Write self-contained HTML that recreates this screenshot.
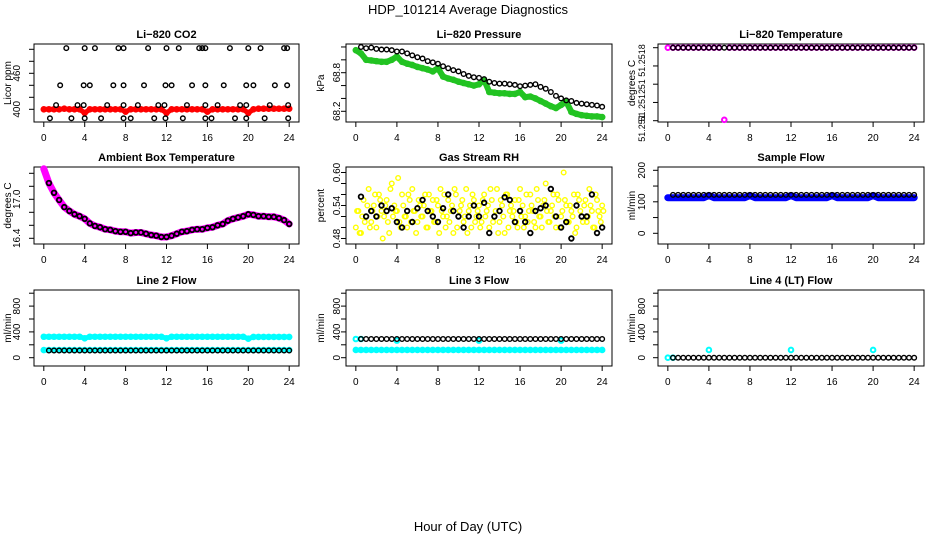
<!DOCTYPE html>
<html><head><meta charset="utf-8">
<style>
html,body{margin:0;padding:0;background:#fff;}
svg{display:block;font-family:"Liberation Sans",Arial,sans-serif;}
.ttl{font-size:11px;font-weight:bold;text-anchor:middle;}
.tk{font-size:10px;text-anchor:middle;}
</style></head>
<body>
<svg id="chart" width="936" height="540" viewBox="0 0 936 540" xmlns="http://www.w3.org/2000/svg">
<text x="468" y="14" font-size="13" text-anchor="middle">HDP_101214  Average Diagnostics</text>
<text x="468" y="531" font-size="13" text-anchor="middle">Hour of Day (UTC)</text>
</svg>
<script>
const hrs=[0,0.5,1,1.5,2,2.5,3,3.5,4,4.5,5,5.5,6,6.5,7,7.5,8,8.5,9,9.5,10,10.5,11,11.5,12,12.5,13,13.5,14,14.5,15,15.5,16,16.5,17,17.5,18,18.5,19,19.5,20,20.5,21,21.5,22,22.5,23,23.5,24];
const xTicks=[0,4,8,12,16,20,24];
// CO2
const co2Red=[400,400,400,400,401,400,400,400,394,400,400,400,400,400,400,400,396,400,400,400,400,400,400,400,394,400,400,400,400,400,400,400,396,400,400,400,400,400,400,400,394,400,401,401,401,401,401,401,401];
const co2BlackX=[2.2,4,5,7.3,7.8,10.2,12,13.2,15.2,15.5,15.8,18.2,20,21.2,23.5,23.8,1.6,3.9,4.5,6.8,7.8,9.8,11.9,12.5,14.5,15.8,17.6,19.8,20.5,22.6,23.8,1.2,3.3,3.9,6.2,7.8,9.2,11.2,11.8,14,15.8,17,19.2,19.8,22.1,23.9,0.6,2.7,4,5.6,7.8,8.5,10.8,11.9,13.6,15.8,16.4,18.7,19.8,21.6,23.9];
const co2BlackY=[502,502,502,502,502,502,502,502,502,502,502,502,502,502,502,502,440,440,440,440,440,440,440,440,440,440,440,440,440,440,440,407,407,407,407,407,407,407,407,407,407,407,407,407,407,407,385,385,385,385,385,385,385,385,385,385,385,385,385,385,385];
// Pressure
const presGreen=[69.15,69.1,69.0,68.99,68.98,68.97,68.97,69.0,69.05,68.97,68.94,68.92,68.89,68.87,68.85,68.82,68.87,68.74,68.71,68.69,68.66,68.64,68.62,68.6,68.62,68.69,68.5,68.49,68.48,68.48,68.47,68.47,68.5,68.42,68.43,68.4,68.36,68.32,68.28,68.25,68.3,68.35,68.19,68.16,68.14,68.13,68.12,68.12,68.11];
const presBlack=[69.2,69.18,69.19,69.17,69.16,69.16,69.15,69.13,69.13,69.1,69.07,69.04,69.02,68.98,68.96,68.94,68.9,68.87,68.84,68.82,68.78,68.75,68.73,68.72,68.7,68.66,68.64,68.63,68.63,68.62,68.61,68.59,68.6,68.61,68.62,68.58,68.55,68.5,68.44,68.4,68.37,68.36,68.33,68.32,68.31,68.3,68.29,68.27];
// Li-820 temperature
const tempMag=[51.2518,51.2518,51.2518,51.2518,51.2518,51.2518,51.2518,51.2518,51.2518,51.2518,51.2518,51.25101,51.2518,51.2518,51.2518,51.2518,51.2518,51.2518,51.2518,51.2518,51.2518,51.2518,51.2518,51.2518,51.2518,51.2518,51.2518,51.2518,51.2518,51.2518,51.2518,51.2518,51.2518,51.2518,51.2518,51.2518,51.2518,51.2518,51.2518,51.2518,51.2518,51.2518,51.2518,51.2518,51.2518,51.2518,51.2518,51.2518,51.2518];
const tempBlack=[51.2518,51.2518,51.2518,51.2518,51.2518,51.2518,51.2518,51.2518,51.2518,51.2518,51.2518,51.2518,51.2518,51.2518,51.2518,51.2518,51.2518,51.2518,51.2518,51.2518,51.2518,51.2518,51.2518,51.2518,51.2518,51.2518,51.2518,51.2518,51.2518,51.2518,51.2518,51.2518,51.2518,51.2518,51.2518,51.2518,51.2518,51.2518,51.2518,51.2518,51.2518,51.2518,51.2518,51.2518,51.2518,51.2518,51.2518,51.2518];
// Ambient box temperature
const ambMag=[17.47,17.25,17.1,16.99,16.88,16.82,16.77,16.74,16.7,16.63,16.59,16.57,16.54,16.53,16.51,16.5,16.5,16.48,16.49,16.49,16.47,16.45,16.44,16.42,16.42,16.44,16.47,16.5,16.51,16.53,16.54,16.54,16.56,16.57,16.6,16.62,16.67,16.7,16.72,16.74,16.77,16.76,16.74,16.74,16.73,16.73,16.71,16.68,16.62];
const ambBlack=[17.25,17.1,16.99,16.88,16.82,16.77,16.74,16.7,16.63,16.59,16.57,16.54,16.53,16.51,16.5,16.5,16.48,16.49,16.49,16.47,16.45,16.44,16.42,16.42,16.44,16.47,16.5,16.51,16.53,16.54,16.54,16.56,16.57,16.6,16.62,16.67,16.7,16.72,16.74,16.77,16.76,16.74,16.74,16.73,16.73,16.71,16.68,16.62];
// Gas stream RH
const rhQ=[0,0.25,0.5,0.75,1,1.25,1.5,1.75,2,2.25,2.5,2.75,3,3.25,3.5,3.75,4,4.25,4.5,4.75,5,5.25,5.5,5.75,6,6.25,6.5,6.75,7,7.25,7.5,7.75,8,8.25,8.5,8.75,9,9.25,9.5,9.75,10,10.25,10.5,10.75,11,11.25,11.5,11.75,12,12.25,12.5,12.75,13,13.25,13.5,13.75,14,14.25,14.5,14.75,15,15.25,15.5,15.75,16,16.25,16.5,16.75,17,17.25,17.5,17.75,18,18.25,18.5,18.75,19,19.25,19.5,19.75,20,20.25,20.5,20.75,21,21.25,21.5,21.75,22,22.25,22.5,22.75,23,23.25,23.5,23.75,24];
const rhYelA=[0.50,0.53,0.49,0.55,0.52,0.57,0.51,0.54,0.50,0.56,0.53,0.52,0.55,0.49,0.58,0.54,0.53,0.51,0.56,0.52,0.50,0.55,0.57,0.53,0.51,0.54,0.52,0.56,0.50,0.53,0.55,0.51,0.54,0.57,0.52,0.50,0.55,0.53,0.49,0.56,0.52,0.54,0.51,0.57,0.53,0.50,0.55,0.52,0.54,0.51,0.56,0.53,0.50,0.55,0.52,0.57,0.51,0.54,0.49,0.56,0.53,0.52,0.55,0.50,0.57,0.54,0.52,0.51,0.56,0.53,0.50,0.55,0.52,0.54,0.58,0.51,0.53,0.56,0.50,0.55,0.52,0.60,0.54,0.51,0.53,0.56,0.50,0.55,0.52,0.54,0.51,0.57,0.53,0.50,0.55,0.52,0.54];
const rhYelB=[0.53,0.49,0.52,0.51,0.54,0.50,0.53,0.56,0.52,0.55,0.48,0.54,0.51,0.57,0.52,0.53,0.59,0.50,0.54,0.52,0.56,0.51,0.53,0.49,0.55,0.52,0.54,0.50,0.56,0.53,0.51,0.55,0.49,0.53,0.56,0.52,0.51,0.54,0.57,0.50,0.53,0.55,0.52,0.49,0.54,0.56,0.51,0.53,0.50,0.55,0.52,0.54,0.57,0.51,0.53,0.49,0.55,0.52,0.56,0.50,0.54,0.53,0.51,0.55,0.52,0.50,0.56,0.53,0.54,0.51,0.57,0.52,0.50,0.55,0.53,0.51,0.54,0.52,0.56,0.50,0.53,0.55,0.51,0.54,0.52,0.49,0.56,0.53,0.51,0.55,0.52,0.54,0.50,0.56,0.53,0.51,0.53];
const rhBlack=[0.556,0.52,0.53,0.52,0.54,0.53,0.535,0.51,0.50,0.53,0.51,0.535,0.55,0.53,0.52,0.51,0.535,0.56,0.53,0.52,0.50,0.52,0.54,0.52,0.545,0.49,0.52,0.53,0.555,0.55,0.51,0.53,0.51,0.49,0.53,0.535,0.54,0.57,0.52,0.50,0.51,0.48,0.54,0.52,0.52,0.56,0.49,0.50];
// Sample flow
const sampBlue=[113,113,113,113,113,113,113,113,120,113,113,113,113,113,113,113,120,113,113,113,113,113,113,113,120,113,113,113,113,113,113,113,120,113,113,113,113,113,113,113,120,113,113,113,113,113,113,113,113];
const sampBlack=[122,122,122,122,122,122,122,122,122,122,122,122,122,122,122,122,122,122,122,122,122,122,122,122,122,122,122,122,122,122,122,122,122,122,122,122,122,122,122,122,122,122,122,122,122,122,122,122];
// Line 2 flow
const l2CyanHi=[325,325,325,325,325,325,325,325,300,325,325,325,325,325,325,325,325,325,325,325,325,325,325,325,300,325,325,325,325,325,325,325,325,325,325,325,325,325,325,325,295,322,322,322,322,322,322,322,322];
const l2CyanLo=[118,118,118,118,118,118,118,118,118,118,118,118,118,118,118,118,118,118,118,118,118,118,118,118,118,118,118,118,118,118,118,118,118,118,118,118,118,118,118,118,118,118,118,118,118,118,118,118,118];
const l2Black=[112,112,112,112,112,112,112,112,112,112,112,112,112,112,112,112,112,112,112,112,112,112,112,112,112,112,112,112,112,112,112,112,112,112,112,112,112,112,112,112,112,112,112,112,112,112,112,112];
// Line 3 flow
const l3CyanLo=[120,120,120,120,120,120,120,120,120,120,120,120,120,120,120,120,120,120,120,120,120,120,120,120,120,120,120,120,120,120,120,120,120,120,120,120,120,120,120,120,120,120,120,120,120,120,120,120,120];
const l3CyanHiX=[0,0.5,4,12,20];
const l3CyanHiY=[290,290,265,265,265];
const l3Black=[290,290,290,290,290,290,290,290,290,290,290,290,290,290,290,290,290,290,290,290,290,290,290,290,290,290,290,290,290,290,290,290,290,290,290,290,290,290,290,290,290,290,290,290,290,290,290,290];
// Line 4 flow
const l4CyanX=[0,0.5,4,12,20];
const l4CyanY=[0,0,120,120,120];
const l4Black=[0,0,0,0,0,0,0,0,0,0,0,0,0,0,0,0,0,0,0,0,0,0,0,0,0,0,0,0,0,0,0,0,0,0,0,0,0,0,0,0,0,0,0,0,0,0,0,0];

const blackX=hrs.slice(1);
const NS='http://www.w3.org/2000/svg';
const svg=document.getElementById('chart');
function mk(tag,attrs,parent){const e=document.createElementNS(NS,tag);for(const k in attrs)e.setAttribute(k,attrs[k]);(parent||svg).appendChild(e);return e;}

const cols=[{l:34,r:299,tx:20,yx:11},{l:346,r:612,tx:340,yx:324},{l:658,r:924,tx:645,yx:635}];
const rows=[{t:44,b:122},{t:167,b:244},{t:290,b:366}];

function panel(ci,ri,cfg){
  const c=cols[ci],r=rows[ri];
  const g=mk('g',{});
  
  
  const X=h=>c.l+(c.r-c.l)*(0.037+h/24*0.926);
  const Y=v=>cfg.yp[0]+(v-cfg.yv[0])/(cfg.yv[1]-cfg.yv[0])*(cfg.yp[1]-cfg.yp[0]);
  const box=mk('rect',{x:c.l,y:r.t,width:c.r-c.l,height:r.b-r.t,fill:'none',stroke:'#000','stroke-width':1},g);
  
  
  const t=mk('text',{x:(c.l+c.r)/2,y:r.t-6,class:'ttl'},g);t.textContent=cfg.title;
  
  
  const xa=mk('g',{},g);
  
  
  mk('line',{x1:X(0),x2:X(24),y1:r.b,y2:r.b,stroke:'#000'},xa);
  xTicks.forEach(v=>{mk('line',{x1:X(v),x2:X(v),y1:r.b,y2:r.b+5,stroke:'#000'},xa);
    const tl=mk('text',{x:X(v),y:r.b+19,class:'tk'},xa);tl.textContent=v;
    
    });
  const ya=mk('g',{},g);
  
  
  const tk=cfg.ticks;
  mk('line',{x1:c.l,x2:c.l,y1:Y(tk[0]),y2:Y(tk[tk.length-1]),stroke:'#000'},ya);
  tk.forEach(v=>mk('line',{x1:c.l-5,x2:c.l,y1:Y(v),y2:Y(v),stroke:'#000'},ya));
  cfg.labels.forEach(([v,s])=>{const yy=Y(v);const tl=mk('text',{x:c.tx,y:yy,class:'tk',transform:`rotate(-90 ${c.tx} ${yy})`},ya);tl.textContent=s;
    if(cfg.labelSize)tl.setAttribute('font-size',cfg.labelSize);
    if(cfg.labelSize)tl.style.fontSize=cfg.labelSize+'px';
    
    });
  const yl=mk('text',{x:c.yx,y:(r.t+r.b)/2,'font-size':10,'text-anchor':'middle',transform:`rotate(-90 ${c.yx} ${(r.t+r.b)/2})`},g);yl.textContent=cfg.ylab;
  
  
  const clip=mk('g',{},g);
  cfg.series.forEach(s=>{
    const sg=mk('g',{},clip);
    
    
    const n=Math.min(s.x.length,s.y.length);
    if(s.band){let d='';for(let i=0;i<n;i++)d+=(i?'L':'M')+X(s.x[i]).toFixed(1)+','+Y(s.y[i]).toFixed(1);
      mk('path',{d:d,fill:'none',stroke:s.color,'stroke-width':s.band,'stroke-linejoin':'round','stroke-linecap':'round'},sg);}
    for(let i=0;i<n;i++){const p=mk('circle',{cx:X(s.x[i]),cy:Y(s.y[i]),r:2.3,fill:'none',stroke:s.color,'stroke-width':s.sw||1.4},sg);
      
      }
  });
}

panel(0,0,{name:'li820-co2-panel',title:'Li\u2212820 CO2',ylab:'Licor ppm',yv:[400,460],yp:[109.3,73.3],ticks:[400,420,440,460,480,500],labels:[[400,'400'],[460,'460']],
 series:[{name:'co2-red',x:hrs,y:co2Red,color:'#ff0000',band:5,sw:2},{name:'co2-black',x:co2BlackX,y:co2BlackY,color:'#000'}]});
panel(1,0,{name:'li820-pressure-panel',title:'Li\u2212820 Pressure',ylab:'kPa',yv:[68.2,68.8],yp:[111.3,72.7],ticks:[68.2,68.4,68.6,68.8,69.0,69.2],labels:[[68.2,'68.2'],[68.8,'68.8']],
 series:[{name:'pressure-green',x:hrs,y:presGreen,color:'#22c322',band:6,sw:2},{name:'pressure-black',x:blackX,y:presBlack,color:'#000'}]});
panel(2,0,{name:'li820-temperature-panel',title:'Li\u2212820 Temperature',ylab:'degrees C',yv:[51.2510,51.2518],yp:[120.7,47.7],ticks:[51.2510,51.2512,51.2514,51.2516,51.2518],labelSize:9,labels:[[51.25166,'51.2518'],[51.25140,'51'],[51.25117,'51.2512'],[51.25092,'51.251']],
 series:[{name:'temperature-magenta',x:hrs,y:tempMag,color:'#ff00ff',sw:2},{name:'temperature-black',x:blackX,y:tempBlack,color:'#000'}]});
panel(0,1,{name:'ambient-box-temperature-panel',title:'Ambient Box Temperature',ylab:'degrees C',yv:[16.4,17.0],yp:[238.3,199.3],ticks:[16.4,16.6,16.8,17.0,17.2,17.4],labels:[[16.4,'16.4'],[17.0,'17.0']],
 series:[{name:'ambient-magenta',x:hrs,y:ambMag,color:'#ff00ff',band:7,sw:2},{name:'ambient-black',x:blackX,y:ambBlack,color:'#000',sw:1.8}]});
panel(1,1,{name:'gas-stream-rh-panel',title:'Gas Stream RH',ylab:'percent',yv:[0.48,0.60],yp:[238.5,172.5],ticks:[0.48,0.50,0.52,0.54,0.56,0.58,0.60],labels:[[0.48,'0.48'],[0.54,'0.54'],[0.60,'0.60']],
 series:[{name:'rh-yellow-a',x:rhQ,y:rhYelA,color:'#ffff00'},{name:'rh-yellow-b',x:rhQ.map(v=>v+0.12),y:rhYelB,color:'#ffff00'},{name:'rh-black',x:blackX,y:rhBlack,color:'#000',sw:1.8}]});
panel(2,1,{name:'sample-flow-panel',title:'Sample Flow',ylab:'ml/min',yv:[0,200],yp:[233.3,170.3],ticks:[0,50,100,150,200],labels:[[0,'0'],[100,'100'],[200,'200']],
 series:[{name:'sample-blue',x:hrs,y:sampBlue,color:'#0000ff',band:7,sw:2},{name:'sample-black',x:blackX,y:sampBlack,color:'#000'}]});
const flowTicks=[0,200,400,600,800,1000],flowLabels=[[0,'0'],[400,'400'],[800,'800']];
panel(0,2,{name:'line2-flow-panel',title:'Line 2 Flow',ylab:'ml/min',yv:[0,400],yp:[357.7,331.9],ticks:flowTicks,labels:flowLabels,
 series:[{name:'line2-cyan-high',x:hrs,y:l2CyanHi,color:'#00ffff',band:5,sw:2},{name:'line2-cyan-low',x:hrs,y:l2CyanLo,color:'#00ffff',band:5,sw:2},{name:'line2-black',x:blackX,y:l2Black,color:'#000'}]});
panel(1,2,{name:'line3-flow-panel',title:'Line 3 Flow',ylab:'ml/min',yv:[0,400],yp:[357.7,331.9],ticks:flowTicks,labels:flowLabels,
 series:[{name:'line3-cyan-low',x:hrs,y:l3CyanLo,color:'#00ffff',band:5,sw:2},{name:'line3-cyan-high',x:l3CyanHiX,y:l3CyanHiY,color:'#00ffff',sw:2},{name:'line3-black',x:blackX,y:l3Black,color:'#000'}]});
panel(2,2,{name:'line4-flow-panel',title:'Line 4 (LT) Flow',ylab:'ml/min',yv:[0,400],yp:[357.7,331.9],ticks:flowTicks,labels:flowLabels,
 series:[{name:'line4-cyan',x:l4CyanX,y:l4CyanY,color:'#00ffff',sw:2},{name:'line4-black',x:blackX,y:l4Black,color:'#000'}]});
</script>
</body></html>
